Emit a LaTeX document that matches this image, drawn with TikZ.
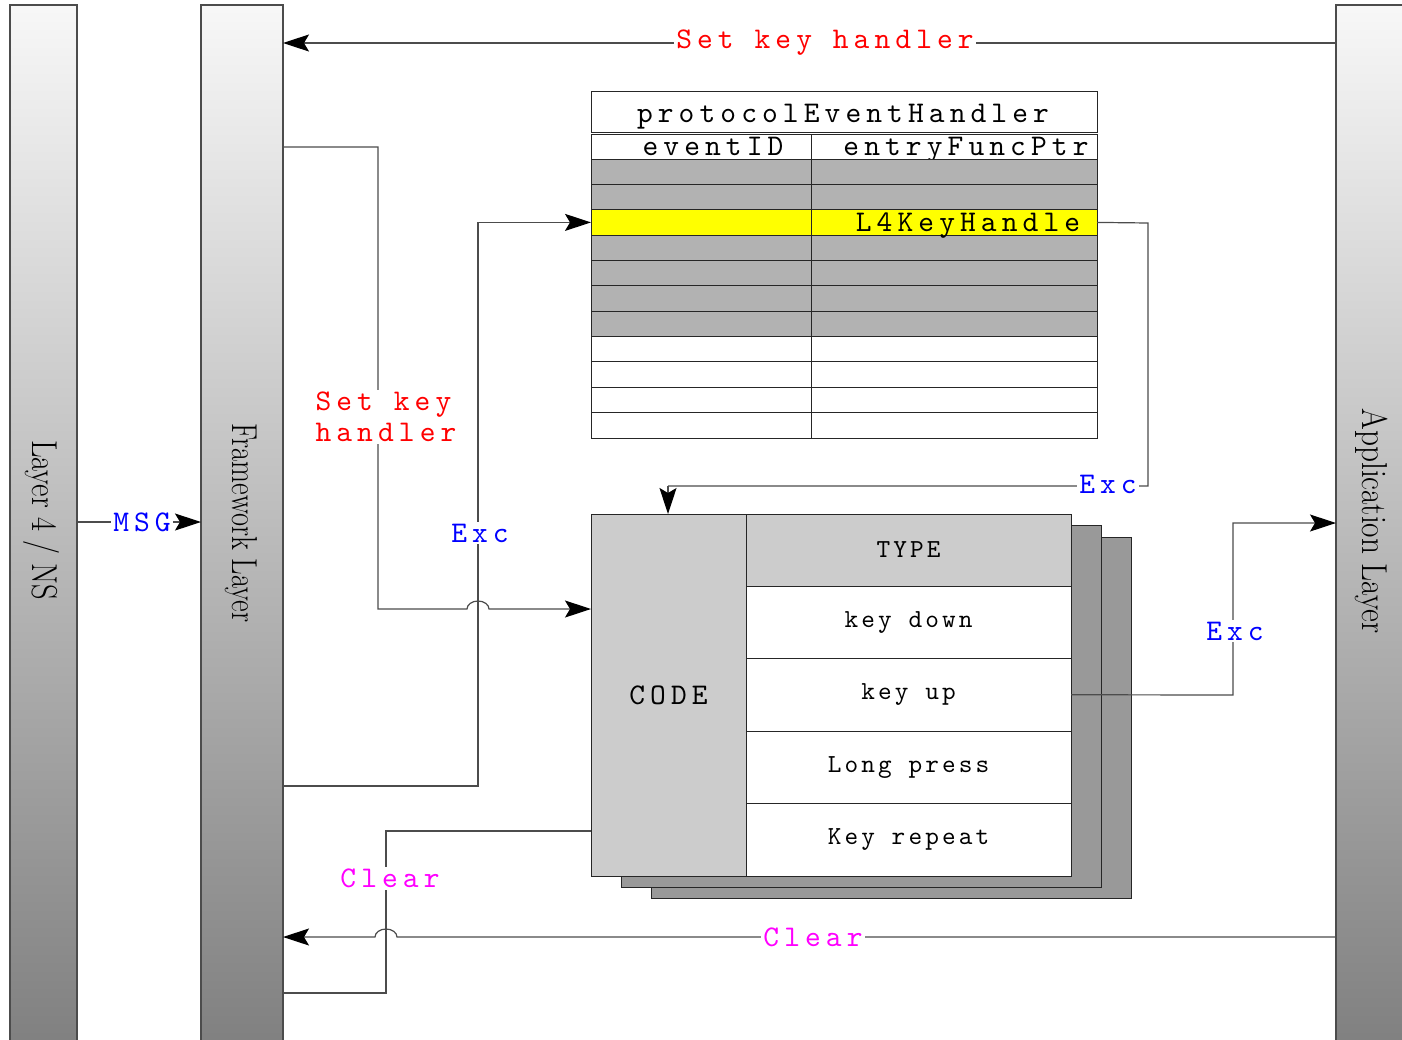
\documentclass[tikz,border=0pt]{standalone}
\usepackage{fontspec}
\usepackage{graphicx}
\usetikzlibrary{arrows.meta}
\newfontfamily\spA{lmmono10-regular.otf}[LetterSpace=17]
\newfontfamily\spB{lmmono10-regular.otf}[LetterSpace=12]
\definecolor{lblred}{RGB}{255,0,0}
\definecolor{lblblue}{RGB}{0,0,255}
\definecolor{lblmag}{RGB}{255,0,255}
\definecolor{rowgray}{RGB}{178,178,178}
\definecolor{rowyel}{RGB}{255,255,0}
\definecolor{lightg}{RGB}{204,204,204}
\definecolor{shadg}{RGB}{153,153,153}
\tikzset{
  barbox/.style={draw=black!70, line width=1.5pt, top color=white!97!black, bottom color=black!50, inner sep=0pt, outer sep=0pt, anchor=north west},
  barlbl/.style={rotate=-90, inner sep=0pt, font=\fontsize{36}{38}\selectfont},
  cell/.style={draw=black!85, line width=0.9pt, inner sep=0pt, outer sep=0pt, anchor=north west},
  conn/.style={draw=black!70, line width=1.2pt},
  arr/.style={conn, -{Stealth[length=26pt,width=17pt,inset=5pt,black]}},
  lbl/.style={fill=white, inner sep=2pt, font={\spA\fontsize{30}{31}\selectfont}},
  ttxt/.style={inner sep=0pt, anchor=base, font={\spA\fontsize{30}{30}\selectfont}},
  ctxt/.style={font={\spB\fontsize{26}{26}\selectfont}},
}
\begin{document}
\begin{tikzpicture}[x=1pt,y=-1pt]
\useasboundingbox (0,0) rectangle (1402,1039);
\clip (0,0) rectangle (1402,1039);
% bars
\node[barbox, minimum width=67pt, minimum height=1045pt] (l4) at (10,5) {};
\node[barbox, minimum width=82pt, minimum height=1045pt] (fw) at (201,5) {};
\node[barbox, minimum width=80pt, minimum height=1045pt] (app) at (1336,5) {};
\node[barlbl] (l4t) at (41,520) {\scalebox{0.845}[1]{Layer 4 / NS}};
\node[barlbl] (fwt) at (241,523) {\scalebox{0.79}[1]{Framework Layer}};
\node[barlbl] (appt) at (1372,521) {\scalebox{0.87}[1]{Application Layer}};
% table
\node[cell, minimum width=506pt, minimum height=41pt] (title) at (591,91) {};
\node[ttxt] (titlet) at (843,122) {protocolEventHandler};
\node[cell, minimum width=220pt, minimum height=25pt] (hl) at (591,134) {};
\node[cell, minimum width=286pt, minimum height=25pt] (hr) at (811,134) {};
\node[ttxt] (hlt) at (713,155) {eventID};
\node[ttxt] (hrt) at (966,155) {entryFuncPtr};
\foreach \i/\c in {0/rowgray,1/rowgray,2/rowyel,3/rowgray,4/rowgray,5/rowgray,6/rowgray,7/white,8/white,9/white,10/white}{
  \node[cell, fill=\c, minimum width=220pt, minimum height=25.36pt] (r\i l) at (591,159+\i*25.36) {};
  \node[cell, fill=\c, minimum width=286pt, minimum height=25.36pt] (r\i r) at (811,159+\i*25.36) {};
}
\node[ttxt] (l4kh) at (968,231) {L4KeyHandle};
% code block
\node[cell, fill=shadg, minimum width=480pt, minimum height=361pt] (sh2) at (651,537) {};
\node[cell, fill=shadg, minimum width=480pt, minimum height=362pt] (sh1) at (621,525) {};
\node[cell, fill=lightg, minimum width=155pt, minimum height=362pt, font={\spA\fontsize{30}{30}\selectfont}] (code) at (591,514) {CODE};
\node[cell, fill=lightg, minimum width=325pt, minimum height=72pt, ctxt] (type) at (746,514) {TYPE};
\node[cell, fill=white, minimum width=325pt, minimum height=72.5pt, ctxt] (kd) at (746,586) {key down};
\node[cell, fill=white, minimum width=325pt, minimum height=72.5pt, ctxt] (ku) at (746,658.5) {key up};
\node[cell, fill=white, minimum width=325pt, minimum height=72.5pt, ctxt] (lp) at (746,731) {Long press};
\node[cell, fill=white, minimum width=325pt, minimum height=72.5pt, ctxt] (kr) at (746,803.5) {Key repeat};
% connectors
\draw[arr] (app.west |- 0,43) -- (fw.east |- 0,43);
\draw[arr] (l4.east |- 0,522) -- (fw.west |- 0,522);
\draw[arr] (fw.east |- 0,786) -- (478,786) |- (r2l.west);
\draw[arr] (fw.east |- 0,147) -- (378,147) -- (378,609) -- (467,609)
   arc[start angle=180, end angle=0, x radius=11pt, y radius=8pt] -- (code.west |- 0,609);
\draw[conn] (r2r.east) -- (1148,223) -- (1148,486) -- (668,486);
\draw[arr] (668,486) -- (code.north -| 668,0);
\draw[arr] (ku.east) -- (1233,695) |- (app.west |- 0,523);
\draw[conn] (code.west |- 0,831) -- (386,831) -- (386,993) -- (fw.east |- 0,993);
\draw[arr] (app.west |- 0,937) -- (397,937)
   arc[start angle=0, end angle=180, x radius=11pt, y radius=8pt] -- (fw.east |- 0,937);
% labels
\node[lbl, text=lblred] (lsk1) at (825,43) {Set key handler};
\node[lbl, text=lblblue] (lmsg) at (142,522) {MSG};
\node[lbl, text=lblred, align=left] (lsk2) at (386,417) {Set key\\handler};
\node[lbl, text=lblblue] (lexc1) at (480,533) {Exc};
\node[lbl, text=lblblue] (lexc2) at (1108,484) {Exc};
\node[lbl, text=lblblue] (lexc3) at (1235,631) {Exc};
\node[lbl, text=lblmag] (lclr1) at (390,878) {Clear};
\node[lbl, text=lblmag] (lclr2) at (813,937) {Clear};
\end{tikzpicture}
\end{document}
